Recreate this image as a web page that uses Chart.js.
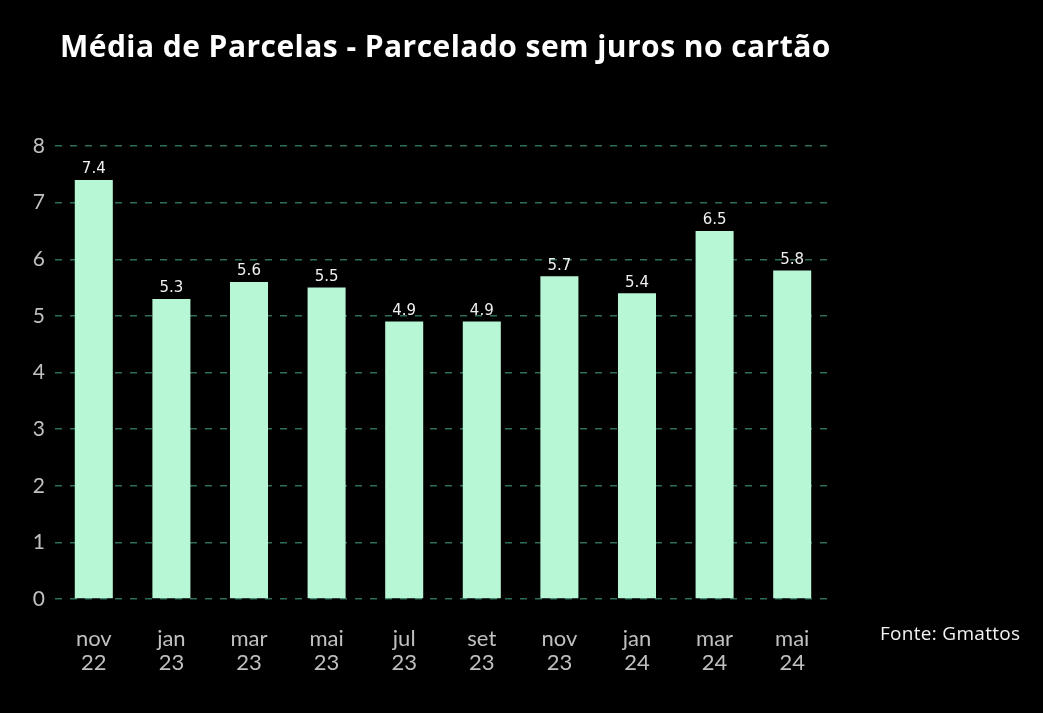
<!DOCTYPE html>
<html>
<head>
<meta charset="utf-8">
<script src="https://cdn.jsdelivr.net/npm/chart.js@4.4.1/dist/chart.umd.min.js"></script>
<style>
    html, body { margin: 0; padding: 0; background: #000; }
    #wrap { position: relative; width: 1043px; height: 713px; overflow: hidden; }
    #title { position: absolute; left: 60px; top: 25px; color: #fff; font: 700 30px "Open Sans", sans-serif; letter-spacing: 0.45px; white-space: nowrap; }
    #fonte { position: absolute; left: 880px; top: 620px; color: #f2f2f2; font: 400 19px "Open Sans", sans-serif; letter-spacing: 0.3px; white-space: nowrap; }
    canvas { position: absolute; left: 0; top: 0; }
</style>
</head>
<body>
<div id="wrap">
    <canvas id="chart" width="1043" height="713"></canvas>
    <div id="title">Média de Parcelas - Parcelado sem juros no cartão</div>
    <div id="fonte">Fonte: Gmattos</div>
</div>
<script>
// Dados do gráfico
const months = ['nov', 'jan', 'mar', 'mai', 'jul', 'set', 'nov', 'jan', 'mar', 'mai'];
const years = ['22', '23', '23', '23', '23', '23', '23', '24', '24', '24'];
const parcelas = [7.4, 5.3, 5.6, 5.5, 4.9, 4.9, 5.7, 5.4, 6.5, 5.8];
const yTicks = [0, 1, 2, 3, 4, 5, 6, 7, 8];

const labels = months.map((m, i) => [m, years[i]]);

// Rótulos de valor acima das barras
const valueLabels = {
    id: 'valueLabels',
    afterDatasetsDraw(chart) {
        const ctx = chart.ctx;
        const meta = chart.getDatasetMeta(0);
        ctx.save();
        ctx.fillStyle = '#f0f0f0';
        ctx.font = '15px "DejaVu Sans", sans-serif';
        ctx.textAlign = 'center';
        ctx.textBaseline = 'bottom';
        meta.data.forEach((bar, i) => {
            ctx.fillText(parcelas[i].toFixed(1), bar.x, bar.y - 3);
        });
        ctx.restore();
    }
};

new Chart(document.getElementById('chart').getContext('2d'), {
    type: 'bar',
    data: {
        labels: labels,
        datasets: [{
            data: parcelas,
            backgroundColor: '#b8f7d5',
            borderWidth: 0,
            barPercentage: 0.49,
            categoryPercentage: 1
        }]
    },
    options: {
        responsive: false,
        animation: false,
        layout: {
            padding: { left: 20, top: 146, right: 212, bottom: 0 }
        },
        plugins: {
            legend: { display: false },
            tooltip: { enabled: false }
        },
        scales: {
            x: {
                grid: { display: false },
                border: { display: false },
                ticks: {
                    color: '#c0c0c0',
                    font: { family: 'Lato', size: 22, lineHeight: 1.1 },
                    padding: 20,
                    maxRotation: 0
                },
                afterFit: scale => { scale.height = 114; }
            },
            y: {
                min: 0,
                max: 8,
                afterBuildTicks: scale => {
                    scale.ticks = yTicks.map(v => ({ value: v }));
                },
                grid: {
                    color: '#2f6f58',
                    lineWidth: 1.5,
                    drawTicks: false
                },
                border: { display: false, dash: [7, 8] },
                ticks: {
                    color: '#c0c0c0',
                    font: { family: 'Lato', size: 21 },
                    padding: 10
                },
                afterFit: scale => { scale.width = 35; }
            }
        }
    },
    plugins: [valueLabels]
});
</script>
</body>
</html>
